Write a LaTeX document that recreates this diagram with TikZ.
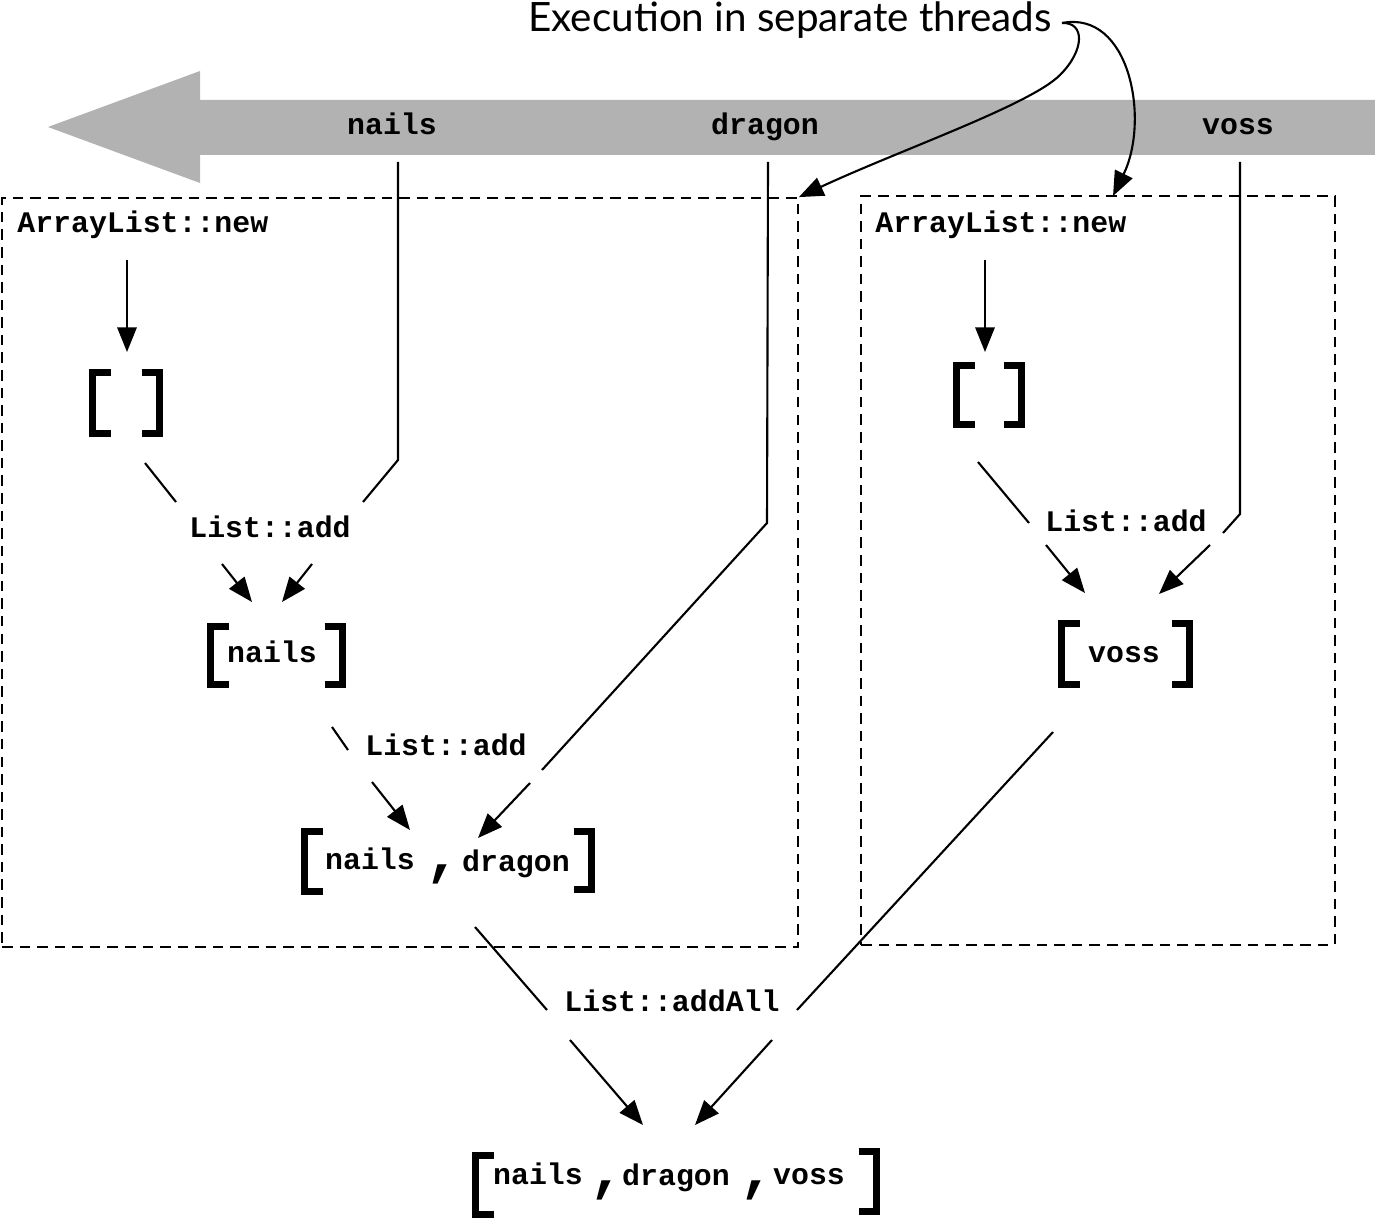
\documentclass[tikz,border=0pt]{standalone}
\usepackage{fontspec}
\setmonofont{Liberation Mono}
\newfontfamily\titlefont{Lato}
\usetikzlibrary{arrows.meta}
\newcommand\lbk[3]{\draw[brk] ({#1+18},#2) -| (#1,#3) -- ({#1+18},#3);}
\newcommand\rbk[3]{\draw[brk] ({#1-18},#2) -| (#1,#3) -- ({#1-18},#3);}
\begin{document}
\begin{tikzpicture}[x=0.02cm,y=-0.02cm,
  lbl/.style={font=\ttfamily\bfseries\fontsize{17}{20}\selectfont, inner sep=0pt, anchor=base},
  cma/.style={font=\ttfamily\bfseries\fontsize{34}{36}\selectfont, inner sep=0pt, anchor=base},
  ln/.style={line width=1.2pt},
  tip/.style={-{Triangle[length=14pt,width=11pt]}},
  arr/.style={ln, tip},
  brk/.style={line width=4pt, line cap=butt, line join=miter},
  box/.style={draw, dash pattern=on 6pt off 4pt, line width=1.1pt, inner sep=0pt},
]
\useasboundingbox (0,0) rectangle (1375,1219);

% thread arrow
\fill[gray!60] (1375,100) -- (200,100) -- (200,71) -- (48,127) -- (200,183) -- (200,155) -- (1375,155) -- cycle;
\node[lbl] (tnails) at (392,135) {nails};
\node[lbl] (tdragon) at (765,135) {dragon};
\node[lbl] (tvoss) at (1238,135) {voss};

% boxes
\node[box, minimum width=15.92cm, minimum height=14.98cm] (box1) at (400,572.5) {};
\node[box, minimum width=9.48cm, minimum height=14.98cm] (box2) at (1098,570.5) {};

% title
\node[font=\titlefont\fontsize{23}{28}\selectfont, anchor=base east, inner sep=0pt] (title) at (1052,32) {Execution in separate threads};
\coordinate (cs) at (1062,23);
\coordinate (b2top) at (1113,196);
\draw[arr] (cs) .. controls (1085,22) and (1085,50) .. (1060,75) .. controls (1030,105) and (900,150) .. (box1.north east);
\draw[arr] (cs) .. controls (1130,10) and (1150,120) .. (b2top);

% ---- left box
\node[lbl, anchor=base west] (new1) at (17,233) {ArrayList::new};
\coordinate (n1a) at (127,260); \coordinate (n1b) at (127,352);
\draw[arr] (n1a) -- (n1b);
\lbk{92.5}{372.5}{433.5} \rbk{159.5}{372.5}{433.5}
\node[lbl] (add1) at (270,537) {List::add};
\coordinate (e1a) at (145,463); \coordinate (e1b) at (176,502);
\draw[ln] (e1a) -- (e1b);
\coordinate (e1c) at (222,564); \coordinate (e1d) at (252,602);
\draw[arr] (e1c) -- (e1d);
\coordinate (tn0) at (398,162); \coordinate (tn1) at (398,460); \coordinate (tn2) at (363,502);
\draw[ln] (tn0) -- (tn1) -- (tn2);
\coordinate (tn3) at (312,564); \coordinate (tn4) at (282,602);
\draw[arr] (tn3) -- (tn4);

\lbk{210.5}{626.5}{684.5} \rbk{342.5}{626.5}{684.5}
\node[lbl] (l1) at (272,662) {nails};

\node[lbl] (add2) at (446,755) {List::add};
\coordinate (l1a) at (332,727); \coordinate (l1b) at (348,750);
\draw[ln] (l1a) -- (l1b);
\coordinate (l1c) at (372,782); \coordinate (l1d) at (410,830);
\draw[arr] (l1c) -- (l1d);
\coordinate (td0) at (768,162); \coordinate (td1) at (767,523); \coordinate (td2) at (542,770);
\draw[ln] (td0) -- (td1) -- (td2);
\coordinate (td3) at (530,783); \coordinate (td4) at (478,838);
\draw[arr] (td3) -- (td4);

\lbk{304.5}{831.5}{891.5} \rbk{591.5}{831.5}{889.5}
\node[lbl] (l2a) at (370,869) {nails};
\node[cma] (l2c) at (443,873) {,};
\node[lbl] (l2b) at (516,871) {dragon};

% ---- right box
\node[lbl, anchor=base west] (new2) at (875,233) {ArrayList::new};
\coordinate (n2a) at (985,260); \coordinate (n2b) at (985,352);
\draw[arr] (n2a) -- (n2b);
\lbk{956.5}{365.5}{424.5} \rbk{1021.5}{365.5}{424.5}
\node[lbl] (add3) at (1126,531) {List::add};
\coordinate (e2a) at (978,462); \coordinate (e2b) at (1029,523);
\draw[ln] (e2a) -- (e2b);
\coordinate (e2c) at (1046,545); \coordinate (e2d) at (1085,593);
\draw[arr] (e2c) -- (e2d);
\coordinate (tv0) at (1240,162); \coordinate (tv1) at (1240,514); \coordinate (tv2) at (1223,533);
\draw[ln] (tv0) -- (tv1) -- (tv2);
\coordinate (tv3) at (1210,545); \coordinate (tv4) at (1159,594);
\draw[arr] (tv3) -- (tv4);

\lbk{1061.5}{623.5}{684.5} \rbk{1189.5}{623.5}{684.5}
\node[lbl] (r1) at (1124,662) {voss};

% ---- addAll
\node[lbl] (addall) at (672,1011) {List::addAll};
\coordinate (m1a) at (475,927); \coordinate (m1b) at (547,1010);
\draw[ln] (m1a) -- (m1b);
\coordinate (m1c) at (570,1040); \coordinate (m1d) at (643,1125);
\draw[arr] (m1c) -- (m1d);
\coordinate (m2a) at (1053,732); \coordinate (m2b) at (797,1010);
\draw[ln] (m2a) -- (m2b);
\coordinate (m2c) at (772,1040); \coordinate (m2d) at (695,1125);
\draw[arr] (m2c) -- (m2d);

\lbk{475.5}{1155.5}{1214.5} \rbk{876.5}{1151.5}{1211.5}
\node[lbl] (f1) at (538,1184) {nails};
\node[cma] (fc1) at (607,1189) {,};
\node[lbl] (f2) at (676,1185) {dragon};
\node[cma] (fc2) at (757,1189) {,};
\node[lbl] (f3) at (809,1184) {voss};
\end{tikzpicture}
\end{document}
